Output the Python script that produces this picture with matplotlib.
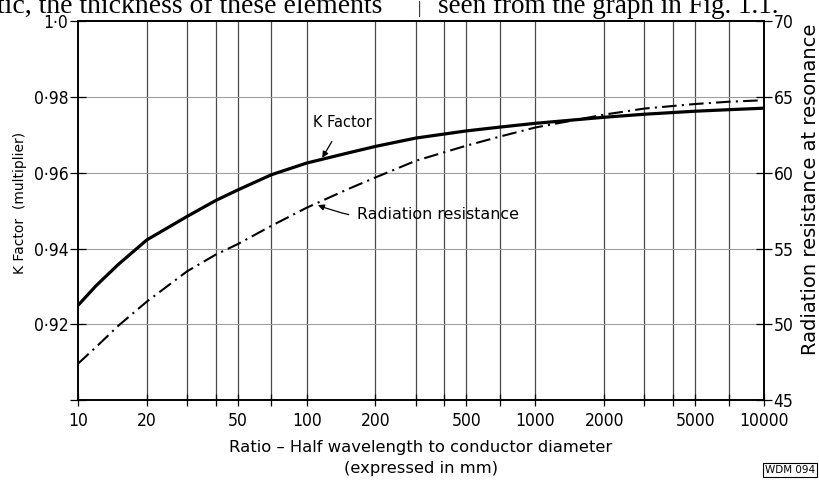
import matplotlib.pyplot as plt
from matplotlib.ticker import FixedLocator, NullLocator

# ratio of half wavelength to conductor diameter
ratio = [10, 12, 15, 20, 30, 40, 50, 70, 100, 150, 200, 300, 500, 700,
         1000, 2000, 3000, 5000, 7000, 10000]
# K factor (multiplier), left axis
k_factor = [0.925, 0.9302, 0.9358, 0.9423, 0.9485, 0.9527, 0.9555, 0.9595,
            0.9626, 0.9652, 0.9670, 0.9692, 0.9711, 0.9721, 0.9731, 0.9747,
            0.9755, 0.9763, 0.9767, 0.9771]
# radiation resistance at resonance (ohms), right axis
rad_res = [47.4, 48.5, 49.9, 51.5, 53.5, 54.6, 55.3, 56.5, 57.7, 58.9, 59.7,
           60.8, 61.8, 62.4, 63.0, 63.85, 64.25, 64.55, 64.7, 64.8]

grid_x = [20, 30, 40, 50, 70, 100, 200, 300, 400, 500, 700, 1000,
          2000, 3000, 4000, 5000, 7000]
labelled_x = [10, 20, 50, 100, 200, 500, 1000, 2000, 5000, 10000]
k_ticks = [0.90, 0.92, 0.94, 0.96, 0.98, 1.0]
k_labels = ['', '0·92', '0·94', '0·96', '0·98', '1·0']
r_ticks = [45, 50, 55, 60, 65, 70]

sans = ['DejaVu Sans']
serif = ['Liberation Serif', 'DejaVu Serif']
tick_font = dict(family=sans, fontsize=12.5, fontstretch='condensed')

fig = plt.figure(figsize=(8.2, 4.83), dpi=100)
ax = fig.add_axes([0.0951, 0.1718, 0.8366, 0.7837])
ax.set_xscale('log')
ax.set_xlim(10, 10000)
ax.set_ylim(0.90, 1.0)

for x in grid_x:
    ax.axvline(x, color='#4a4a4a', lw=0.9, zorder=1)
for y in k_ticks[1:-1]:
    ax.axhline(y, color='#a0a0a0', lw=0.8, zorder=1)

ax.plot(ratio, k_factor, color='black', lw=2.3, solid_capstyle='butt', zorder=3)

ax2 = ax.twinx()
ax2.set_ylim(45, 70)
ax2.plot(ratio, rad_res, color='black', lw=1.5, dashes=(7, 2.5, 1, 2.5), zorder=3)

xt = sorted(set(grid_x + labelled_x))
ax.xaxis.set_major_locator(FixedLocator(xt))
ax.xaxis.set_minor_locator(NullLocator())
ax.set_xticklabels([str(v) if v in labelled_x else '' for v in xt], **tick_font)
ax.set_yticks(k_ticks)
ax.set_yticklabels(k_labels, **tick_font)
ax2.set_yticks(r_ticks)
ax2.set_yticklabels([str(v) for v in r_ticks], **tick_font)

ax.tick_params(axis='x', direction='inout', length=9, width=0.9, pad=4)
ax.tick_params(axis='y', direction='inout', length=12, width=0.9, pad=1)
ax2.tick_params(axis='y', direction='inout', length=12, width=0.9, pad=1)
for a in (ax, ax2):
    for s in a.spines.values():
        s.set_linewidth(1.2)

ax.set_ylabel('K Factor  (multiplier)', family=sans, fontsize=10)
ax.yaxis.set_label_coords(-0.085, 0.520)
ax.yaxis.label.set(ha='center', va='center')
ax2.set_ylabel('Radiation resistance at resonance', family=sans, fontsize=14)
ax2.yaxis.set_label_coords(1.068, 0.557)
ax2.yaxis.label.set(ha='center', va='center')
ax.set_xlabel('Ratio – Half wavelength to conductor diameter\n(expressed in mm)',
              family=sans, fontsize=11.8, labelpad=7, linespacing=1.55)

ax.annotate('K Factor', xy=(117, 0.9640), xytext=(144, 0.9732),
            ha='center', va='center', family=sans, fontsize=10.5,
            arrowprops=dict(arrowstyle='-|>', color='black', lw=0.9,
                            mutation_scale=9, shrinkA=7, shrinkB=0))
ax.annotate('Radiation resistance', xy=(112, 0.9515), xytext=(166, 0.9489),
            ha='left', va='center', family=sans, fontsize=11.4,
            arrowprops=dict(arrowstyle='-|>', color='black', lw=0.9,
                            mutation_scale=9, shrinkA=4, shrinkB=0,
                            connectionstyle='arc3,rad=-0.15'))

# running text of the page above and the drawing number below
fig.text(-0.004, 1 - 13 / 483, 'tic, the thickness of these elements',
         family=serif, fontsize=20, va='baseline', ha='left')
fig.text(419 / 820, 1 - 13 / 483, '|', family=serif, fontsize=12,
         va='baseline', ha='center')
fig.text(438 / 820, 1 - 13 / 483, 'seen from the graph in Fig. 1.1.',
         family=serif, fontsize=19.5, va='baseline', ha='left')
fig.text(790 / 820, 1 - 470 / 483, 'WDM 094', family=sans, fontsize=7.5,
         ha='center', va='center',
         bbox=dict(boxstyle='square,pad=0.2', fc='white', ec='black', lw=0.8))

fig.savefig('out.png', dpi=100)
